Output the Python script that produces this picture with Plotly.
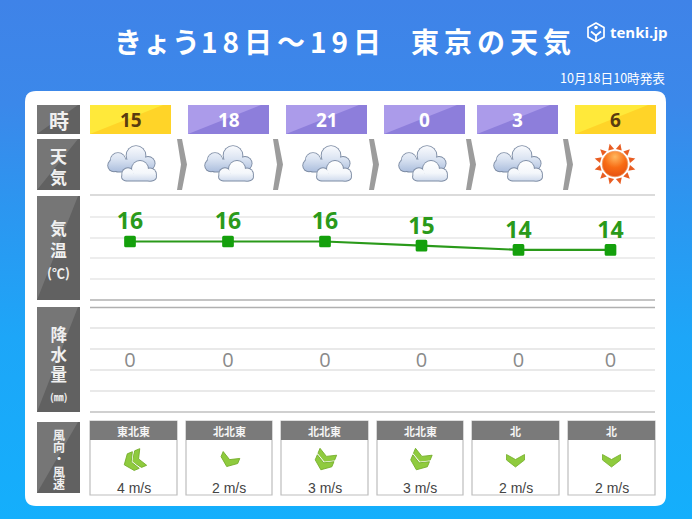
import base64, math
import plotly.graph_objects as go

# ---- data ----
hours = ["15", "18", "21", "0", "3", "6"]
is_day = [True, False, False, False, False, True]
weather = ["cloud", "cloud", "cloud", "cloud", "cloud", "sun"]
temps = [16, 16, 16, 15, 14, 14]
precip = [0, 0, 0, 0, 0, 0]
wind_dir = ["東北東", "北北東", "北北東", "北北東", "北", "北"]
wind_speed = [4, 2, 3, 3, 2, 2]
compass = {"北": 0, "北北東": 22.5, "北東": 45, "東北東": 67.5}

# ---- layout constants ----
W, H = 692, 519
slot_x = [130, 228, 325, 421.5, 518.5, 610.5]
hour_cells = [(90, 171), (188, 269), (286, 367), (384, 465), (477, 558), (575, 656)]
icon_x = [132, 229, 327, 423, 518, 615]
arrow_x = [177, 273, 369, 466, 563]
wind_cells = [(90, 177), (186, 272), (281, 368), (377, 463), (472, 559), (568, 655)]
# box top, box bottom, text centre, line pitch, [(text, size), ...]
row_labels = [
    (105, 134, 120, 26, [("時", 20)]),
    (139, 190, 165.5, 21, [("天", 17), ("気", 17)]),
    (196, 300, 248.5, 21.5, [("気", 16.5), ("温", 16.5), ("(℃)", 13)]),
    (307, 412, 363, 20, [("降", 16.5), ("水", 16.5), ("量", 16.5), ("(㎜)", 10)]),
    (422, 493, 458.5, 12.2, [("風", 12), ("向", 12), ("・", 12), ("風", 12), ("速", 12)]),
]
CJK = "Noto Sans CJK JP"


def svg_uri(body, w, h):
    s = f'<svg xmlns="http://www.w3.org/2000/svg" width="{w}" height="{h}" viewBox="0 0 {w} {h}">{body}</svg>'
    return "data:image/svg+xml;base64," + base64.b64encode(s.encode()).decode()


def place(source, x, y, w, h, layer="above"):
    return dict(source=source, xref="x", yref="y", x=x - w / 2, y=y - h / 2, sizex=w, sizey=h,
                xanchor="left", yanchor="top", sizing="stretch", layer=layer)


bg_svg = svg_uri(
    '<defs><linearGradient id="g" x1="0" y1="0" x2="0" y2="1">'
    '<stop offset="0" stop-color="#3f83e8"/><stop offset="0.2" stop-color="#3b88ea"/>'
    '<stop offset="0.4" stop-color="#2c96f0"/><stop offset="0.65" stop-color="#1da6f8"/>'
    '<stop offset="1" stop-color="#14affc"/></linearGradient></defs>'
    f'<rect width="{W}" height="{H}" fill="url(#g)"/>', W, H)


def blob(circles, rect, fill, grow):
    out = "".join(f'<circle cx="{c[0]}" cy="{c[1]}" r="{c[2] + grow}" fill="{fill}"/>' for c in circles)
    x, y, w, h = rect
    out += f'<rect x="{x - grow}" y="{y - grow}" width="{w + 2 * grow}" height="{h + 2 * grow}" rx="5" fill="{fill}"/>'
    return out


back_c, back_r = [(12, 16, 7.4), (30, 11, 9.4), (42, 19, 6.6), (8, 21, 5.8)], (7, 15, 38, 12)
front_c, front_r = [(22, 29.5, 5.8), (34, 24.5, 8), (44, 30, 6)], (16, 29, 34, 7)
cloud_svg = svg_uri(
    '<defs><linearGradient id="a" gradientUnits="userSpaceOnUse" x1="0" y1="3" x2="0" y2="28">'
    '<stop offset="0" stop-color="#f6f8fc"/><stop offset="0.45" stop-color="#dbe4f2"/>'
    '<stop offset="1" stop-color="#a9bcdc"/></linearGradient>'
    '<linearGradient id="b" gradientUnits="userSpaceOnUse" x1="0" y1="16" x2="0" y2="37">'
    '<stop offset="0" stop-color="#ffffff"/><stop offset="0.6" stop-color="#f4f7fb"/>'
    '<stop offset="1" stop-color="#cdd9ec"/></linearGradient></defs>'
    + blob(back_c, back_r, "#7d8ca4", 0.9) + blob(back_c, back_r, "url(#a)", 0)
    + blob(front_c, front_r, "#7d8ca4", 0.9) + blob(front_c, front_r, "url(#b)", 0), 52, 40)

rays = ""
for i in range(12):
    a = math.radians(i * 30 + 15)
    px, py = 21 + 21 * math.sin(a), 21 - 21 * math.cos(a)
    b1x, b1y = 21 + 15 * math.sin(a - 0.2), 21 - 15 * math.cos(a - 0.2)
    b2x, b2y = 21 + 15 * math.sin(a + 0.2), 21 - 15 * math.cos(a + 0.2)
    rays += f'<polygon points="{px:.1f},{py:.1f} {b1x:.1f},{b1y:.1f} {b2x:.1f},{b2y:.1f}" fill="#e85d22"/>'
sun_svg = svg_uri(
    '<defs><radialGradient id="s" cx="0.5" cy="0.22" r="0.85"><stop offset="0" stop-color="#ffb860"/>'
    '<stop offset="0.5" stop-color="#f86c14"/><stop offset="1" stop-color="#e34c10"/></radialGradient></defs>'
    + rays + '<circle cx="21" cy="21" r="12.8" fill="url(#s)" stroke="#f09a60" stroke-width="0.8"/>', 42, 42)

logo_svg = svg_uri(
    '<g fill="none" stroke="#ffffff" stroke-width="1.7" stroke-linejoin="round">'
    '<polygon points="10,1.5 18,6 18,15.5 10,20 2,15.5 2,6"/></g>'
    '<circle cx="10" cy="6" r="1.8" fill="#fff"/><path d="M5 10 L10 14 L15 10 M10 14 V19" stroke="#fff" stroke-width="1.8" fill="none"/>',
    20, 22)


def chevron_svg(direction, speed):
    layers = 1 if speed <= 2 else 2
    gap = 8 if speed >= 4 else 7
    pts = "-9,-6.5 0,-1.5 9,-6.5 9,-1 0,6 -9,-1"
    arm = (f'<polygon points="{pts}" fill="none" stroke="#ffffff" stroke-width="2.4" stroke-linejoin="round"/>'
           f'<polygon points="{pts}" fill="#8fcb3e" stroke="#74ad2a" stroke-width="0.8" stroke-linejoin="round"/>')
    parts = "".join(f'<g transform="translate(0,{-gap * k})">{arm}</g>' for k in range(layers - 1, -1, -1))
    shift = (layers - 1) * gap / 2
    return svg_uri(f'<g transform="translate(20,20) rotate({compass[direction]}) translate(0,{shift})">{parts}</g>', 40, 40)


# the background sits in the page-wide lower image layer, beneath every shape
images = [dict(source=bg_svg, xref="paper", yref="paper", x=0, y=1, sizex=1, sizey=1,
               xanchor="left", yanchor="top", sizing="stretch", layer="below"),
          place(logo_svg, 596, 32.5, 20, 22)]
for kind, x in zip(weather, icon_x):
    if kind == "cloud":
        images.append(place(cloud_svg, x, 164.5, 52, 40))
    else:
        images.append(place(sun_svg, x, 164, 42, 42))
for d, s, cell in zip(wind_dir, wind_speed, wind_cells):
    images.append(place(chevron_svg(d, s), (cell[0] + cell[1]) / 2, 461, 40, 40))


def poly(pts, fill):
    d = "M" + " L".join(f"{a},{b}" for a, b in pts) + " Z"
    return dict(type="path", path=d, xref="x", yref="y", fillcolor=fill, line_width=0, layer="below")


def hline(y, color, width=1.2):
    return dict(type="line", x0=90, x1=655, y0=y, y1=y, xref="x", yref="y",
                line=dict(color=color, width=width), layer="below")


r = 11
x0, x1, y0, y1 = 25, 666, 91, 506
panel = (f"M{x0+r},{y0} L{x1-r},{y0} Q{x1},{y0} {x1},{y0+r} L{x1},{y1-r} Q{x1},{y1} {x1-r},{y1} "
         f"L{x0+r},{y1} Q{x0},{y1} {x0},{y1-r} L{x0},{y0+r} Q{x0},{y0} {x0+r},{y0} Z")
shapes = [dict(type="path", path=panel, xref="x", yref="y", fillcolor="#ffffff", line_width=0, layer="below")]

annotations = []


def note(x, y, text, size, color="#ffffff", family=CJK, bold=False, xanchor="center"):
    if bold:
        text = f"<b>{text}</b>"
    annotations.append(dict(x=x, y=y, xref="x", yref="y", text=text, showarrow=False, xanchor=xanchor,
                            yanchor="middle", align="center", font=dict(family=family, size=size, color=color)))


# left label column: plotly spaces lines at 1.3 em of the annotation font, inner spans set glyph size
for a, b, centre, pitch, lines in row_labels:
    shapes.append(poly([(37, a), (80, a), (80, b), (37, b)], "#616161"))
    shapes.append(poly([(37, a), (78, a), (37, b)], "#767676"))
    text = "<br>".join(f"<span style='font-size:{s}px'>{t}</span>" for t, s in lines)
    note(58.5, centre, text, pitch / 1.3, "#f0f0f0", bold=True)

# hour header
for h, day, (a, b) in zip(hours, is_day, hour_cells):
    light, dark = ("#ffe93a", "#ffd428") if day else ("#ab9bea", "#8d7edb")
    shapes.append(poly([(a, 105), (b, 105), (b, 134), (a, 134)], dark))
    shapes.append(poly([(a, 105), (b - 8, 105), (a, 134)], light))
    note((a + b) / 2, 120, h, 19, "#5a3c10" if day else "#ffffff", "Open Sans", True)

# transition arrows
for x in arrow_x:
    shapes.append(poly([(x, 139), (x + 5, 139), (x + 10, 164.5), (x + 5, 190), (x, 190), (x + 4, 164.5)], "#9c9c9c"))

# rows of rules
shapes.append(hline(195, "#b8b8b8"))
for y in (217, 238, 258, 279):
    shapes.append(hline(y, "#dcdcdc"))
shapes.append(hline(300, "#b0b0b0", 1.6))
shapes.append(hline(307.5, "#b0b0b0", 1.4))
for y in (328, 349, 370, 391):
    shapes.append(hline(y, "#d4d4d4"))
shapes.append(hline(412, "#c0c0c0", 1.6))

# wind boxes
for d, s, (a, b) in zip(wind_dir, wind_speed, wind_cells):
    shapes.append(dict(type="rect", x0=a, x1=b, y0=421, y1=495, xref="x", yref="y", fillcolor="#ffffff",
                       line=dict(color="#bdbdbd", width=1.2), layer="below"))
    shapes.append(poly([(a, 421), (b, 421), (b, 440), (a, 440)], "#7a7a7a"))
    note((a + b) / 2, 431, d, 11, "#f4f4f4", bold=True)
    note((a + b) / 2, 487.5, f"{s} m/s", 14, "#444444", "Liberation Sans")

# header text
note(345, 41,
     "<span style='letter-spacing:1px'>きょう</span>"
     "<span style='letter-spacing:5px'>18日～19日</span>"
     "<span style='font-size:20px;letter-spacing:5px'>　</span>"
     "<span style='letter-spacing:5px'>東京の天気</span>",
     28, "#ffffff", bold=True)
note(608, 32, "tenki.jp", 15, "#ffffff", "Open Sans", True, "left")
note(667, 77, "10月18日10時発表", 12.6, "#ffffff", CJK, False, "right")

fig = go.Figure()
fig.add_trace(go.Scatter(
    x=slot_x, y=temps, xaxis="x", yaxis="y2", mode="lines+markers+text",
    text=[str(t) for t in temps], textposition="top center",
    textfont=dict(family="Open Sans", size=23, color="#2a9a1a", weight="bold"),
    line=dict(color="#2a9a1a", width=2.2),
    marker=dict(symbol="square", size=8.5, color="#14a00c", line=dict(color="#14a00c", width=3.2)),
    hoverinfo="skip", cliponaxis=False,
))
fig.add_trace(go.Scatter(
    x=slot_x, y=precip, xaxis="x", yaxis="y3", mode="text",
    text=[str(p) for p in precip], textposition="middle center",
    textfont=dict(family="Open Sans", size=20, color="#8a8a8a"),
    hoverinfo="skip", cliponaxis=False,
))

hidden = dict(visible=False, fixedrange=True)
fig.update_layout(
    width=W, height=H, autosize=False,
    margin=dict(l=0, r=0, t=0, b=0, pad=0),
    paper_bgcolor="#2c96f0", plot_bgcolor="rgba(0,0,0,0)",
    showlegend=False,
    xaxis=dict(range=[0, W], domain=[0, 1], **hidden),
    yaxis=dict(range=[H, 0], domain=[0, 1], **hidden),
    yaxis2=dict(range=[2.07, 27.07], domain=[(H - 300) / H, (H - 195) / H], anchor="x", **hidden),
    yaxis3=dict(range=[-0.943, 1.057], domain=[(H - 412) / H, (H - 307) / H], anchor="x", **hidden),
    images=images, shapes=shapes, annotations=annotations,
)
page_script = ("document.body.style.margin='0';"
               "var s=document.createElement('style');"
               "s.textContent='.points path{stroke-linejoin:round !important}';"
               "document.head.appendChild(s);")
fig.write_html("out.html", config={"displayModeBar": False}, post_script=page_script)
